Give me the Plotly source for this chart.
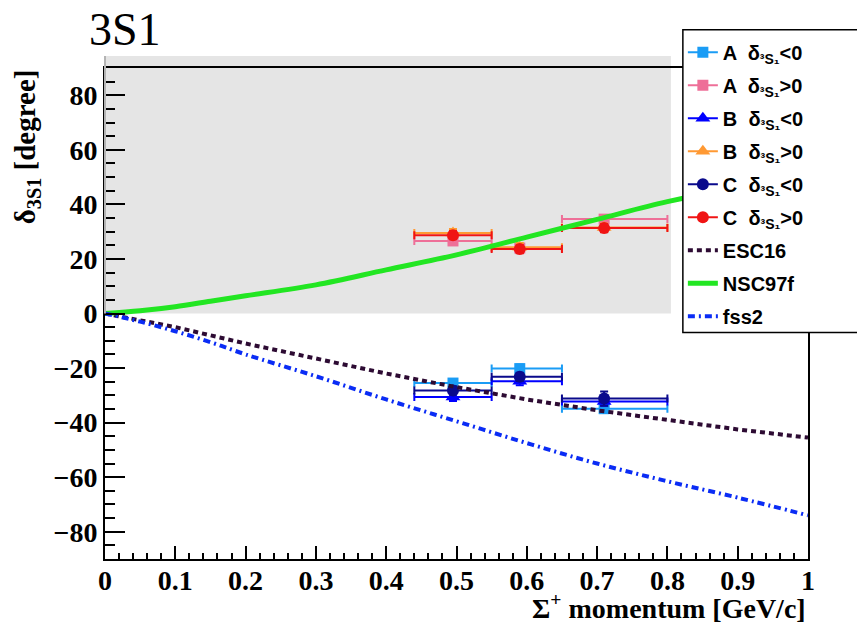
import plotly.graph_objects as go

# ---------------- data ----------------
x_mom = [0.495, 0.59, 0.71]
x_err_minus = [0.055, 0.04, 0.06]
x_err_plus = [0.055, 0.06, 0.09]

A_neg = [-25.5, -20.2, -34.9]
A_pos = [26.6, 24.0, 34.6]
B_neg = [-30.6, -24.8, -32.3]
B_pos = [29.5, 24.3, 31.5]
C_neg = [-28.2, -23.2, -31.2]
C_pos = [28.7, 23.6, 31.3]
y_err_A_neg = [1.5, 1.5, 1.5]
y_err_A_pos = [1.5, 1.5, 1.5]
y_err_B_neg = [1.5, 1.5, 1.5]
y_err_B_pos = [1.5, 1.5, 1.5]
y_err_C_neg = [1.5, 1.5, 2.6]
y_err_C_pos = [1.5, 1.5, 1.5]

curve_x = [0.0, 0.05, 0.1, 0.15, 0.2, 0.3, 0.4, 0.5, 0.6, 0.7, 0.8, 0.9, 1.0]
esc16 = [0.0, -2.5, -5.0, -8.0, -11.0, -16.5, -22.0, -27.0, -31.5, -35.5, -39.0, -42.5, -45.5]
nsc97f = [0.0, 1.0, 2.5, 4.5, 6.5, 10.5, 16.0, 21.5, 28.0, 34.5, 41.0, 46.0, 50.0]
fss2 = [0.0, -3.0, -6.5, -10.5, -15.0, -23.0, -31.5, -39.5, -47.5, -55.0, -61.5, -67.5, -74.0]

x_ticks = [0, 0.1, 0.2, 0.3, 0.4, 0.5, 0.6, 0.7, 0.8, 0.9, 1]
x_tick_labels = ["0", "0.1", "0.2", "0.3", "0.4", "0.5", "0.6", "0.7", "0.8", "0.9", "1"]

sub = "δ<sub>³S₁</sub>"
series = [
    ("A  " + sub + "&lt;0", A_neg, y_err_A_neg, "#1a9cf5", "square", 11),
    ("A  " + sub + "&gt;0", A_pos, y_err_A_pos, "#ee6f98", "square", 11),
    ("B  " + sub + "&lt;0", B_neg, y_err_B_neg, "#0000ff", "triangle-up", 13),
    ("B  " + sub + "&gt;0", B_pos, y_err_B_pos, "#ff9933", "triangle-up", 13),
    ("C  " + sub + "&lt;0", C_neg, y_err_C_neg, "#0a0a8c", "circle", 12),
    ("C  " + sub + "&gt;0", C_pos, y_err_C_pos, "#f01414", "circle", 12),
]

fig = go.Figure()

for i, (name, ys, yerr, col, sym, sz) in enumerate(series):
    fig.add_trace(go.Scatter(
        x=x_mom, y=ys, mode="markers", showlegend=False,
        marker=dict(color=col, symbol=sym, size=sz),
        error_x=dict(type="data", symmetric=False, array=x_err_plus,
                     arrayminus=x_err_minus, color=col, thickness=2, width=4),
        error_y=dict(type="data", array=yerr, color=col, thickness=2, width=4),
    ))

# legend entries for the data series
for i, (name, ys, yerr, col, sym, sz) in enumerate(series):
    fig.add_trace(go.Scatter(
        x=[None], y=[None], mode="lines+markers", name=name,
        legendgroup="g%d" % i,
        line=dict(color=col, width=2),
        marker=dict(color=col, symbol=sym, size=sz),
    ))

fig.add_trace(go.Scatter(x=curve_x, y=esc16, mode="lines", name="ESC16",
                         legendgroup="g6",
                         line=dict(color="#2d0b33", width=4, dash="5px,4px")))
fig.add_trace(go.Scatter(x=curve_x, y=nsc97f, mode="lines", name="NSC97f",
                         legendgroup="g7", line_shape="spline",
                         line=dict(color="#22e622", width=5)))
fig.add_trace(go.Scatter(x=curve_x, y=fss2, mode="lines", name="fss2",
                         legendgroup="g8", line_shape="spline",
                         line=dict(color="#0a2cf5", width=4, dash="7px,4px,2px,4px")))

serif = "Liberation Serif"

fig.update_layout(
    width=857, height=618,
    margin=dict(l=97, r=57, t=60, b=67, autoexpand=False),
    plot_bgcolor="white", paper_bgcolor="white",
    showlegend=True,
    legend=dict(
        x=0.822, y=1.0717, xanchor="left", yanchor="top",
        bgcolor="rgba(0,0,0,0)", borderwidth=0,
        font=dict(family="Liberation Sans", size=20, color="black", weight="bold"),
        traceorder="grouped", tracegroupgap=4, itemwidth=30,
    ),
    xaxis=dict(
        range=[0, 1], showgrid=False, zeroline=False,
        showline=True, linecolor="black", linewidth=2, mirror=True,
        tickmode="array", tickvals=x_ticks, ticktext=x_tick_labels,
        ticks="inside", ticklen=13, tickwidth=2, tickcolor="black",
        ticklabelstandoff=-5,
        minor=dict(ticks="inside", dtick=0.02, tick0=0, ticklen=6, tickwidth=2, tickcolor="black"),
        tickfont=dict(family=serif, size=28, color="black", weight="bold"),
    ),
    yaxis=dict(
        range=[-90, 90], showgrid=False, zeroline=False,
        showline=True, linecolor="black", linewidth=2, mirror=True,
        dtick=20, tick0=0,
        ticks="inside", ticklen=20, tickwidth=2, tickcolor="black",
        minor=dict(ticks="inside", dtick=5, tick0=0, ticklen=10, tickwidth=2, tickcolor="black"),
        tickfont=dict(family=serif, size=28, color="black", weight="bold"),
    ),
    shapes=[
        dict(type="rect", xref="paper", yref="paper", x0=0, x1=0.805, y0=0.5, y1=1.0244,
             fillcolor="#e5e5e5", line=dict(width=0), layer="below"),
        dict(type="line", xref="paper", yref="paper", x0=0, x1=0, y0=0.5, y1=1.0244,
             line=dict(color="#b4b4b4", width=2), layer="above"),
        dict(type="rect", xref="paper", yref="paper", x0=0.822, x1=1.075, y0=0.4615, y1=1.078,
             fillcolor="white", line=dict(color="black", width=1.5), layer="above"),
    ],
    annotations=[
        dict(text="3S1", xref="paper", yref="paper", x=-0.026, y=1.078,
             xanchor="left", yanchor="middle", showarrow=False,
             font=dict(family=serif, size=46, color="black")),
        dict(text="δ<sub>3S1</sub> [degree]", xref="paper", yref="paper", x=-0.111, y=1.0024,
             xanchor="center", yanchor="top", textangle=-90, showarrow=False,
             font=dict(family=serif, size=29, color="black", weight="bold")),
        dict(text="Σ<sup>+</sup> momentum [GeV/c]", xref="paper", yref="paper", x=1.0, y=-0.0974,
             xanchor="right", yanchor="middle", showarrow=False,
             font=dict(family=serif, size=28, color="black", weight="bold")),
    ],
)

fig.write_html("out.html")
